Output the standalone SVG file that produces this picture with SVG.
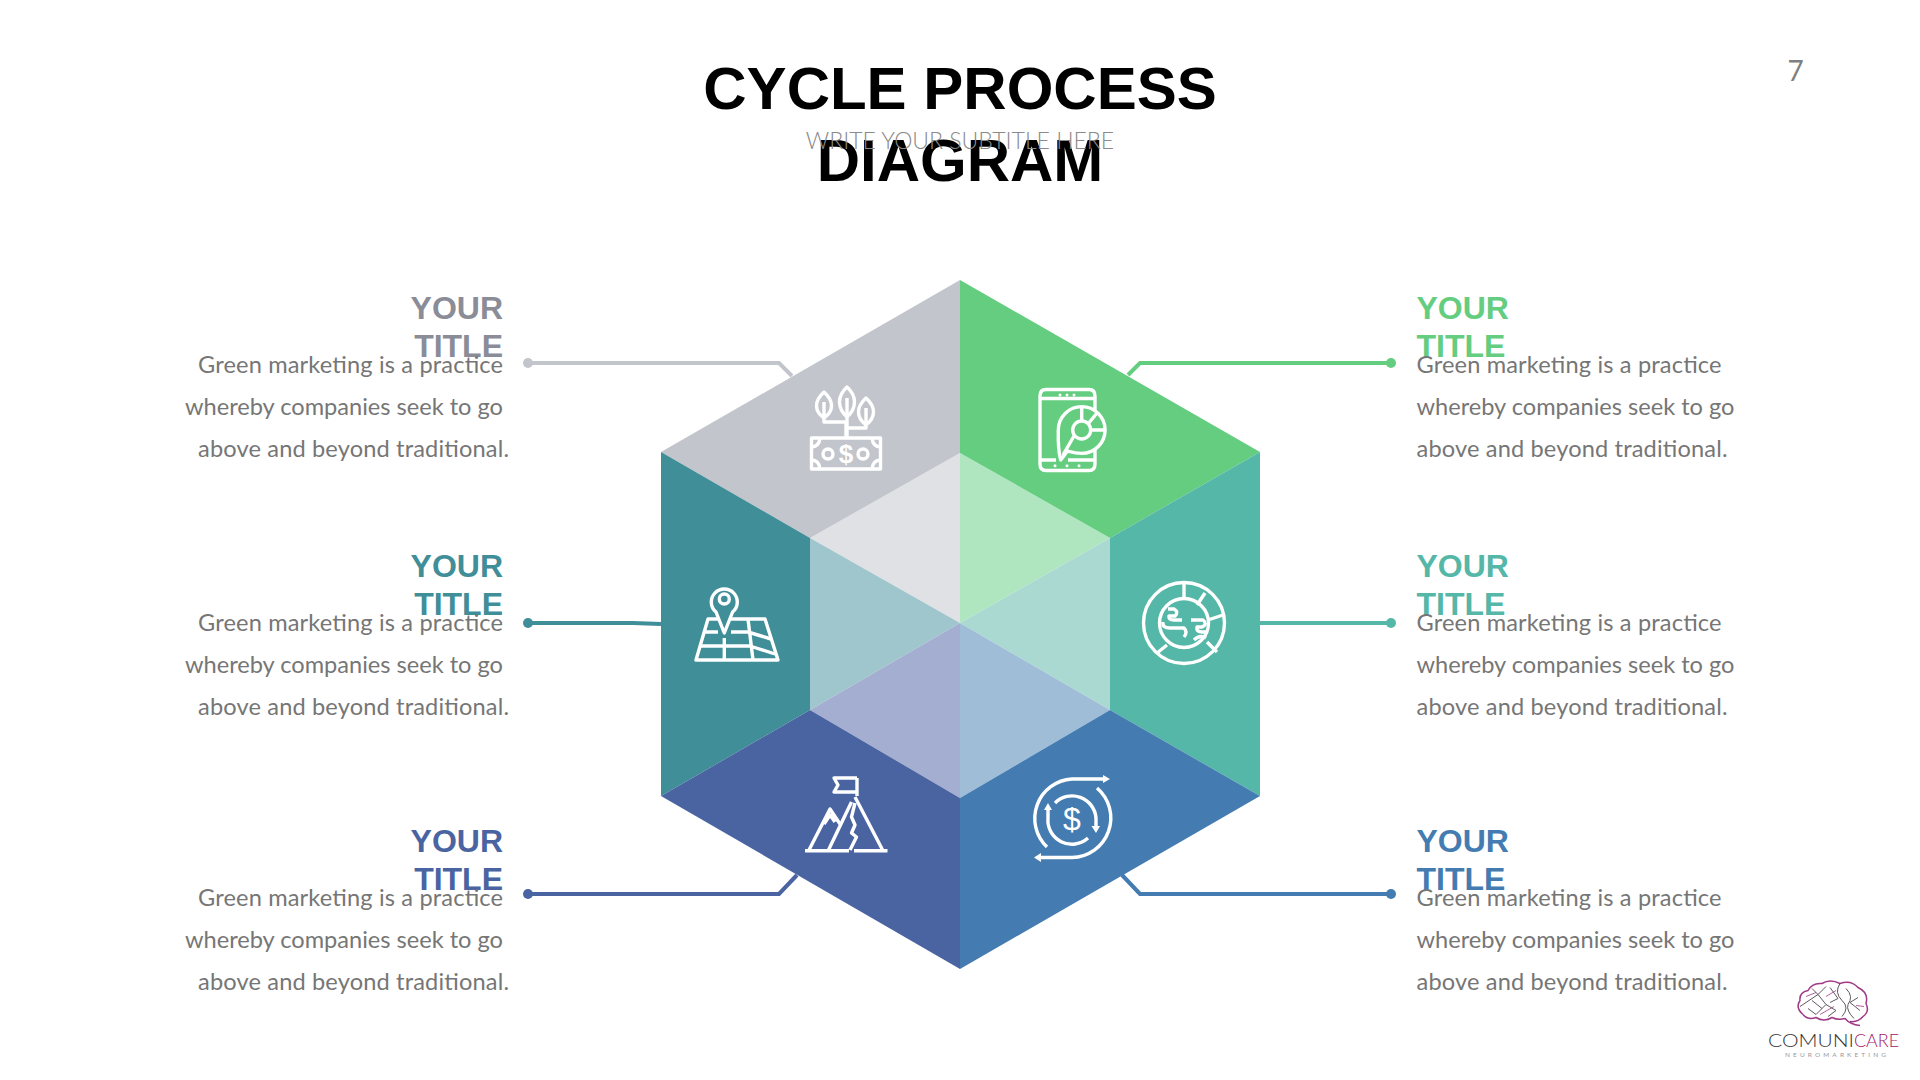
<svg xmlns="http://www.w3.org/2000/svg" width="1920" height="1080" viewBox="0 0 1920 1080">
<style>
.h{font-family:"Liberation Sans",Arial,sans-serif;font-weight:700;font-size:60px;fill:#000;text-anchor:middle}
.sub{font-family:Lato,"Liberation Sans",sans-serif;font-weight:300;font-size:23px;fill:#8a8a8a;text-anchor:middle}
.t{font-family:"Liberation Sans",Arial,sans-serif;font-weight:700;font-size:32px}
.b{font-family:Lato,"Liberation Sans",sans-serif;font-size:23.600px;fill:#767676}
.e{text-anchor:end}
.ic{fill:none;stroke:#fff;stroke-width:3.400;stroke-linejoin:round}
.icf{fill:#fff;stroke:none}
.ds{font-family:"Liberation Sans",Arial,sans-serif;fill:#fff;text-anchor:middle}
.c{fill:none;stroke-width:4}
</style>
<rect width="1920" height="1080" fill="#fff"/>
<g id="header">
<text class="h" x="960" y="109">CYCLE PROCESS</text>
<text class="h" x="960" y="181">DIAGRAM</text>
<text class="sub" x="960" y="149">WRITE YOUR SUBTITLE HERE</text>
<text x="1795.500" y="81" font-family="Lato,sans-serif" font-size="28" fill="#7f7f7f" text-anchor="middle">7</text>
</g>
<g id="connectors">
<g stroke="#C2C5CC" fill="#C2C5CC"><path class="c" d="M528,363H779L792,376"/><circle cx="528" cy="363" r="5" stroke="none"/></g>
<g stroke="#64CD7F" fill="#64CD7F"><path class="c" d="M1391,363H1140L1128,375"/><circle cx="1391" cy="363" r="5" stroke="none"/></g>
<g stroke="#3F8E98" fill="#3F8E98"><path class="c" d="M528,623H633L661,624"/><circle cx="528" cy="623" r="5" stroke="none"/></g>
<g stroke="#54B7A7" fill="#54B7A7"><path class="c" d="M1391,623H1259"/><circle cx="1391" cy="623" r="5" stroke="none"/></g>
<g stroke="#4A64A2" fill="#4A64A2"><path class="c" d="M528,894H779L797,875"/><circle cx="528" cy="894" r="5" stroke="none"/></g>
<g stroke="#447CB2" fill="#447CB2"><path class="c" d="M1391,894H1140L1122,875"/><circle cx="1391" cy="894" r="5" stroke="none"/></g>
</g>
<g id="hexagon">
<polygon fill="#E0E1E5" points="960,453 810,538 960,623"/>
<polygon fill="#B0E6BF" points="960,453 1110,538 960,623"/>
<polygon fill="#9FC6CC" points="810,538 960,623 810,710"/>
<polygon fill="#A9D9D1" points="1110,538 960,623 1110,710"/>
<polygon fill="#A3AED0" points="810,710 960,623 960,798"/>
<polygon fill="#A0BDD8" points="1110,710 960,623 960,798"/>
</g>
<g id="node-top-left">
<polygon fill="#C2C5CC" points="960,280 661,452 810,538 960,453"/>
<g class="ic">
<path d="M824,392C834,401 834,411 824,418C814,411 814,401 824,392ZM824,402V422H846V437"/>
<path d="M847,387C857,396 857,408 847,417C837,408 837,396 847,387ZM847,398V437"/>
<path d="M866,398C876,407 876,417 866,425C856,417 856,407 866,398ZM866,408V428H848"/>
<rect x="811.500" y="438" width="69" height="31"/>
<path d="M811.500,447Q819,447 820,438M872,438Q873,447 880.500,447M811.500,460Q819,460 820,469M872,469Q873,460 880.500,460"/>
<circle cx="828" cy="454" r="5"/><circle cx="863" cy="454" r="5"/>
</g>
<text class="ds" x="846" y="463" font-size="26" font-weight="700">$</text>
</g>
<g id="node-top-right">
<polygon fill="#64CD7F" points="960,280 1260,452 1110,538 960,453"/>
<g class="ic">
<path d="M1095,412V396Q1095,389.500 1089,389.500H1046Q1040,389.500 1040,396V464Q1040,470.500 1046,470.500H1089Q1095,470.500 1095,464V450"/>
<path d="M1040,398.500H1095M1040,460H1056M1068,460H1095"/>
<path d="M1060.700,460C1058,450 1058,440 1058.300,430A23.400,23.400 0 1 1 1081.700,453.400C1075,453.400 1071,452 1067.500,451Z"/>
<circle cx="1081.700" cy="430" r="9"/>
<path d="M1074,436L1063,455M1081.700,407V421M1097,413L1088,424M1105,430H1091"/>
</g>
<g class="icf"><circle cx="1060" cy="395" r="1.500"/><circle cx="1067" cy="395" r="1.500"/><circle cx="1074" cy="395" r="1.500"/><circle cx="1055" cy="465.700" r="1.500"/><circle cx="1067" cy="465.700" r="1.500"/><circle cx="1079" cy="465.700" r="1.500"/></g>
</g>
<g id="node-mid-left">
<polygon fill="#3F8E98" points="661,452 810,538 810,710 661,796"/>
<g class="ic">
<path d="M718,619H708L696,660H778L765,619H731"/>
<path d="M724.300,633L716,612A13,13 0 1 1 732.600,612Z"/>
<circle cx="724.300" cy="599" r="5"/>
<path d="M704,632H718M731,632H748L771,639M700,646H750L775,654M724.300,638V660M748,619L753,660"/>
</g>
</g>
<g id="node-mid-right">
<polygon fill="#54B7A7" points="1110,538 1260,452 1260,796 1110,710"/>
<g class="ic">
<circle cx="1184" cy="623" r="40.500"/><circle cx="1184" cy="623" r="24.500"/>
<path d="M1184,583V598M1205,593L1197,605M1223,615L1208,620M1217,652L1207,642M1157,653L1167,645"/>
<path d="M1168,609H1174Q1179,612 1175,616H1169Q1168,620 1174,620H1182M1163,622Q1162,628 1170,628H1184Q1188,632 1184,637"/>
<path d="M1191,620H1203Q1208,624 1202,627H1197Q1196,632 1202,632H1207M1194,640Q1200,634 1206,638"/>
</g>
</g>
<g id="node-bottom-left">
<polygon fill="#4A64A2" points="661,796 810,710 960,798 960,969"/>
<g class="ic">
<path d="M805,850.700H849M854,850.700H887.500M855,797L883,850.700M851.500,802L828.500,850"/>
<path d="M809,850L830,809L840,824M824,824L830,815L835,822"/>
<path d="M855,803L851.500,817L855,825L851.500,833L856.500,837L850,850"/>
<path d="M857,778V796M857,778H834L838,785L834,792H857"/>
</g>
</g>
<g id="node-bottom-right">
<polygon fill="#447CB2" points="1260,796 1110,710 960,798 960,969"/>
<g class="ic">
<path d="M1047,847A39.500,39.500 0 0 1 1072,779H1104M1097,788A39.500,39.500 0 0 1 1072,857.500H1040"/>
<path d="M1055,803A24,24 0 0 1 1096,818V826M1088,838A24,24 0 0 1 1048,818V810"/>
</g>
<g class="icf"><path d="M1103,775L1110,779L1103,783ZM1041,853L1034,857.500L1041,862ZM1091.500,826H1100L1096,833ZM1044,810H1052L1048,803Z"/></g>
<text class="ds" x="1072" y="830" font-size="32">$</text>
</g>
<g id="label-top-left">
<text class="t e" fill="#8A8D97" x="503" y="319">YOUR</text><text class="t e" fill="#8A8D97" x="503" y="356.500">TITLE</text>
<text class="b e" x="503" y="373" textLength="305">Green marketing is a practice</text><text class="b e" x="503" y="415" textLength="318">whereby companies seek to go</text><text class="b e" x="509" y="457" textLength="311">above and beyond traditional.</text>
</g>
<g id="label-mid-left">
<text class="t e" fill="#3F8E98" x="503" y="577">YOUR</text><text class="t e" fill="#3F8E98" x="503" y="615">TITLE</text>
<text class="b e" x="503" y="631" textLength="305">Green marketing is a practice</text><text class="b e" x="503" y="673" textLength="318">whereby companies seek to go</text><text class="b e" x="509" y="715" textLength="311">above and beyond traditional.</text>
</g>
<g id="label-bottom-left">
<text class="t e" fill="#4A64A2" x="503" y="852">YOUR</text><text class="t e" fill="#4A64A2" x="503" y="890">TITLE</text>
<text class="b e" x="503" y="906" textLength="305">Green marketing is a practice</text><text class="b e" x="503" y="948" textLength="318">whereby companies seek to go</text><text class="b e" x="509" y="990" textLength="311">above and beyond traditional.</text>
</g>
<g id="label-top-right">
<text class="t" fill="#64CD7F" x="1416.500" y="319">YOUR</text><text class="t" fill="#64CD7F" x="1416.500" y="356.500">TITLE</text>
<text class="b" x="1416.500" y="373" textLength="305">Green marketing is a practice</text><text class="b" x="1416.500" y="415" textLength="318">whereby companies seek to go</text><text class="b" x="1416.500" y="457" textLength="311">above and beyond traditional.</text>
</g>
<g id="label-mid-right">
<text class="t" fill="#54B7A7" x="1416.500" y="577">YOUR</text><text class="t" fill="#54B7A7" x="1416.500" y="615">TITLE</text>
<text class="b" x="1416.500" y="631" textLength="305">Green marketing is a practice</text><text class="b" x="1416.500" y="673" textLength="318">whereby companies seek to go</text><text class="b" x="1416.500" y="715" textLength="311">above and beyond traditional.</text>
</g>
<g id="label-bottom-right">
<text class="t" fill="#447CB2" x="1416.500" y="852">YOUR</text><text class="t" fill="#447CB2" x="1416.500" y="890">TITLE</text>
<text class="b" x="1416.500" y="906" textLength="305">Green marketing is a practice</text><text class="b" x="1416.500" y="948" textLength="318">whereby companies seek to go</text><text class="b" x="1416.500" y="990" textLength="311">above and beyond traditional.</text>
</g>
<g id="logo">
<g transform="translate(0,2.500)" fill="none">
<path d="M1803,1012Q1795,1005 1800,998Q1799,990 1808,988Q1812,980 1822,981Q1830,976 1840,981Q1851,977 1858,985Q1869,990 1866,1001Q1870,1009 1863,1014Q1858,1020 1850,1019" stroke="#A03A86" stroke-width="1.500"/>
<path d="M1803,1012Q1808,1018 1816,1015Q1824,1020 1832,1015Q1838,1018 1845,1016Q1850,1022 1860,1023" stroke="#A03A86" stroke-width="1.500"/>
<path d="M1806,1000L1818,992L1826,1002L1816,1012L1808,1006M1826,1002L1836,1008L1828,1014M1812,986L1818,992L1826,984M1840,981Q1834,990 1842,998Q1850,1005 1842,1014M1846,986Q1854,994 1848,1002Q1846,1008 1854,1016M1830,985L1838,996L1830,1000M1858,995L1850,1000L1860,1008M1822,1006L1812,998M1800,1004L1806,1000" stroke="#5F5860" stroke-width="1"/>
<path d="M1816,990L1806,994M1836,988L1826,994M1856,1003L1864,1004M1820,1012L1834,1004" stroke="#A03A86" stroke-width="0.800"/>
</g>
<text x="1768" y="1047" font-family="Lato,sans-serif" font-weight="300" font-size="17" textLength="86" lengthAdjust="spacingAndGlyphs" fill="#333">COMUNI</text>
<text x="1854" y="1047" font-family="Lato,sans-serif" font-weight="300" font-size="17" textLength="45" lengthAdjust="spacingAndGlyphs" fill="#A0206F">CARE</text>
<text x="1785" y="1057" font-family="Lato,sans-serif" font-size="6.500" textLength="101" fill="#999">NEUROMARKETING</text>
</g>
</svg>
